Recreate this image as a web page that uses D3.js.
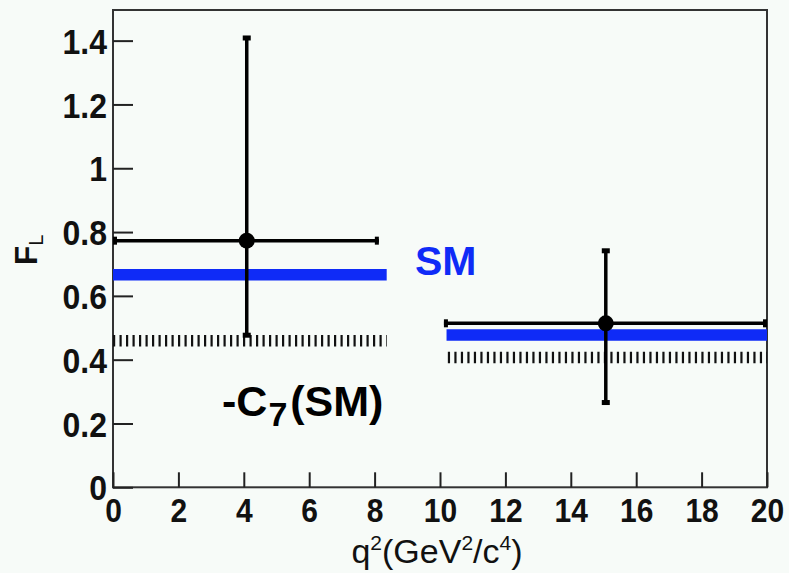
<!DOCTYPE html>
<html>
<head>
<meta charset="utf-8">
<script src="https://cdn.jsdelivr.net/npm/d3@7"></script>
<style>
  html, body { margin: 0; padding: 0; background: #f7fbf8; }
  svg { display: block; }
  text { font-family: "Liberation Sans", Arial, Helvetica, sans-serif; }
</style>
</head>
<body>
<svg id="chart" width="789" height="573"></svg>
<script>
// Measured F_L per q^2 bin
const binLo   = [0, 10.12];
const binHi   = [8.13, 20];
const binX    = [4.09, 15.07];
const fL      = [0.773, 0.514];
const fLErrHi = [1.413, 0.746];
const fLErrLo = [0.472, 0.261];

// Standard Model prediction per bin
const smLo  = [0, 10.2];
const smHi  = [8.37, 20];
const smVal = [0.666, 0.477];

// Flipped-sign C7 prediction per bin
const c7Lo  = [0, 10.24];
const c7Hi  = [8.37, 20];
const c7Val = [0.459, 0.407];

const xTicks = [0, 2, 4, 6, 8, 10, 12, 14, 16, 18, 20];
const yTicks = [0, 0.2, 0.4, 0.6, 0.8, 1, 1.2, 1.4];

const svg = d3.select("#chart");
const frameL = 113, frameR = 767, frameT = 10, frameB = 487.3;

const x = d3.scaleLinear().domain([0, 20]).range([frameL, frameR]);
const y = d3.scaleLinear().domain([0, 1.496]).range([frameB, frameT]);

// Frame
svg.append("rect")
  .attr("x", frameL).attr("y", frameT)
  .attr("width", frameR - frameL).attr("height", frameB - frameT)
  .attr("fill", "none").attr("stroke", "#333").attr("stroke-width", 2);

// Y axis
const yAxis = d3.axisRight(y).tickValues(yTicks).tickSize(20)
  .tickFormat(d => d3.format("")(d));
const gy = svg.append("g").attr("transform", `translate(${frameL},0)`).call(yAxis);
gy.select(".domain").remove();
gy.selectAll(".tick line").attr("stroke", "#222").attr("stroke-width", 2);
gy.selectAll(".tick text")
  .attr("x", -6).attr("dy", "0.36em")
  .attr("transform", "scale(1,1.1)")
  .attr("text-anchor", "end")
  .attr("font-size", 32).attr("font-weight", "bold").attr("fill", "#111");

// X axis
const xAxis = d3.axisTop(x).tickValues(xTicks).tickSize(15).tickFormat(d3.format("d"));
const gx = svg.append("g").attr("transform", `translate(0,${frameB})`).call(xAxis);
gx.select(".domain").remove();
gx.selectAll(".tick line").attr("stroke", "#222").attr("stroke-width", 2);
gx.selectAll(".tick text")
  .attr("y", 0).attr("dy", 0)
  .attr("transform", "translate(0,35) scale(1,1.1)")
  .attr("text-anchor", "middle")
  .attr("font-size", 30).attr("font-weight", "bold").attr("fill", "#111");

// -C7 hatched bands
svg.append("g").selectAll("line").data(c7Val).join("line")
  .attr("x1", (d, i) => x(c7Lo[i]))
  .attr("x2", (d, i) => x(c7Hi[i]))
  .attr("y1", d => y(d)).attr("y2", d => y(d))
  .attr("stroke", "#111").attr("stroke-width", 11.5)
  .attr("stroke-dasharray", "2.2 4.3");

// SM bands
svg.append("g").selectAll("line").data(smVal).join("line")
  .attr("x1", (d, i) => x(smLo[i]))
  .attr("x2", (d, i) => x(smHi[i]))
  .attr("y1", d => y(d)).attr("y2", d => y(d))
  .attr("stroke", "#0f2bf7").attr("stroke-width", 11.5);

// Data points with error bars
const pts = svg.append("g").selectAll("g").data(fL).join("g");
pts.append("line")
  .attr("x1", (d, i) => x(binLo[i])).attr("x2", (d, i) => x(binHi[i]))
  .attr("y1", d => y(d)).attr("y2", d => y(d))
  .attr("stroke", "#000").attr("stroke-width", 3.5);
pts.append("line")
  .attr("x1", (d, i) => x(binX[i])).attr("x2", (d, i) => x(binX[i]))
  .attr("y1", (d, i) => y(fLErrLo[i])).attr("y2", (d, i) => y(fLErrHi[i]))
  .attr("stroke", "#000").attr("stroke-width", 3.5);
// end caps
pts.append("rect")
  .attr("x", (d, i) => x(binLo[i]))
  .attr("y", d => y(d) - 4).attr("width", 4).attr("height", 8).attr("fill", "#000");
pts.append("rect")
  .attr("x", (d, i) => x(binHi[i]) - 4)
  .attr("y", d => y(d) - 4).attr("width", 4).attr("height", 8).attr("fill", "#000");
pts.append("rect")
  .attr("x", (d, i) => x(binX[i]) - 4)
  .attr("y", (d, i) => y(fLErrHi[i]) - 1).attr("width", 8).attr("height", 5).attr("fill", "#000");
pts.append("rect")
  .attr("x", (d, i) => x(binX[i]) - 4)
  .attr("y", (d, i) => y(fLErrLo[i]) - 4).attr("width", 8).attr("height", 5).attr("fill", "#000");
pts.append("circle")
  .attr("cx", (d, i) => x(binX[i])).attr("cy", d => y(d))
  .attr("r", 8).attr("fill", "#000");

// Labels
svg.append("text")
  .attr("x", 415).attr("y", 275)
  .attr("font-size", 41).attr("font-weight", "bold").attr("fill", "#0f2bf7")
  .text("SM");

const c7 = svg.append("text")
  .attr("x", 222).attr("y", 416)
  .attr("font-size", 43).attr("font-weight", "bold").attr("fill", "#000");
c7.append("tspan").text("-C");
c7.append("tspan").attr("dy", 10).attr("dx", 1).attr("font-size", 34).text("7");
c7.append("tspan").attr("dy", -10).attr("dx", 3).text("(SM)");

// Axis titles
const xt = svg.append("text")
  .attr("x", 437).attr("y", 563)
  .attr("text-anchor", "middle")
  .attr("font-size", 34).attr("fill", "#111");
xt.append("tspan").text("q");
xt.append("tspan").attr("dy", -13).attr("font-size", 21).text("2");
xt.append("tspan").attr("dy", 13).text("(GeV");
xt.append("tspan").attr("dy", -13).attr("font-size", 21).text("2");
xt.append("tspan").attr("dy", 13).text("/c");
xt.append("tspan").attr("dy", -13).attr("font-size", 21).text("4");
xt.append("tspan").attr("dy", 13).text(")");

const yt = svg.append("text")
  .attr("transform", "translate(37,250) rotate(-90)")
  .attr("text-anchor", "middle")
  .attr("font-size", 32).attr("font-weight", "bold").attr("fill", "#111");
yt.append("tspan").text("F");
yt.append("tspan").attr("dy", 6).attr("font-size", 20).attr("font-weight", "normal").text("L");
</script>
</body>
</html>
